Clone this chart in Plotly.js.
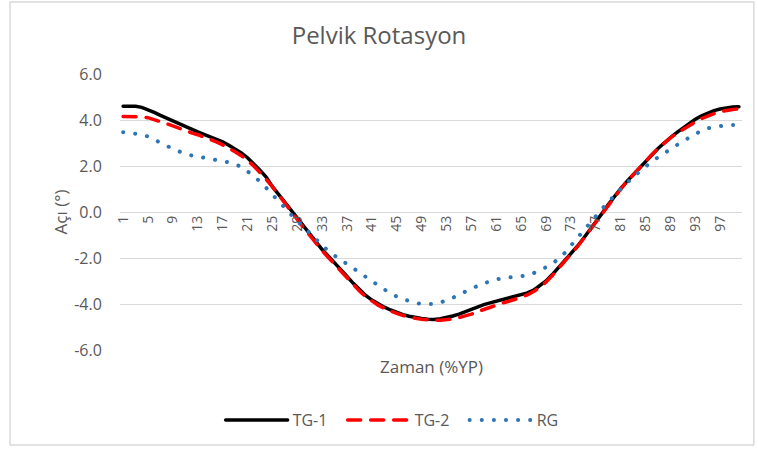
<!DOCTYPE html>
<html>
<head>
<meta charset="utf-8">
<script src="https://cdn.plot.ly/plotly-3.0.1.min.js"></script>
<style>
html,body{margin:0;padding:0;background:#fff;}
#chart{width:758px;height:450px;}
.scatterlayer .js-line, .legendlines path { stroke-linecap: round; }
</style>
</head>
<body>
<div id="chart"></div>
<script>
const categories = Array.from({length: 100}, (_, i) => i + 1);
const tickLabels = categories.filter(c => (c - 1) % 4 === 0);

const tg1 = [4.60,4.61,4.60,4.55,4.45,4.33,4.20,4.08,3.97,3.82,
3.69,3.58,3.48,3.38,3.28,3.18,3.05,2.90,2.75,2.57,
2.36,2.10,1.82,1.52,1.10,0.77,0.43,0.08,-0.27,-0.62,
-0.98,-1.32,-1.63,-1.92,-2.20,-2.50,-2.80,-3.10,-3.38,-3.63,
-3.83,-4.00,-4.14,-4.26,-4.37,-4.46,-4.53,-4.59,-4.63,-4.66,
-4.67,-4.64,-4.59,-4.52,-4.44,-4.33,-4.22,-4.12,-4.03,-3.95,
-3.88,-3.81,-3.74,-3.67,-3.60,-3.52,-3.40,-3.22,-3.00,-2.72,
-2.42,-2.15,-1.85,-1.50,-1.15,-0.80,-0.43,-0.06,0.32,0.68,
1.02,1.33,1.63,1.92,2.20,2.48,2.76,3.02,3.24,3.45,
3.65,3.85,4.03,4.18,4.31,4.41,4.48,4.53,4.57,4.58];

const tg2 = [4.15,4.15,4.15,4.14,4.10,4.02,3.93,3.84,3.74,3.63,
3.53,3.44,3.36,3.27,3.17,3.05,2.92,2.78,2.62,2.45,
2.25,2.00,1.72,1.42,1.10,0.76,0.40,0.04,-0.32,-0.68,
-1.03,-1.37,-1.68,-1.98,-2.28,-2.58,-2.88,-3.17,-3.44,-3.68,
-3.88,-4.05,-4.19,-4.31,-4.41,-4.50,-4.57,-4.62,-4.66,-4.69,
-4.71,-4.71,-4.69,-4.65,-4.59,-4.52,-4.44,-4.33,-4.23,-4.13,
-4.04,-3.96,-3.88,-3.80,-3.71,-3.60,-3.46,-3.27,-3.04,-2.76,
-2.46,-2.17,-1.86,-1.52,-1.17,-0.80,-0.44,-0.07,0.30,0.66,
1.00,1.32,1.62,1.92,2.21,2.49,2.76,3.01,3.22,3.42,
3.60,3.77,3.92,4.06,4.18,4.28,4.36,4.42,4.46,4.48];

const rg = [3.47,3.45,3.42,3.37,3.28,3.16,3.02,2.88,2.75,2.62,
2.52,2.46,2.41,2.37,2.33,2.29,2.23,2.16,2.08,1.96,
1.77,1.55,1.33,1.05,0.76,0.46,0.14,-0.13,-0.40,-0.64,
-0.93,-1.20,-1.45,-1.70,-1.91,-2.09,-2.26,-2.45,-2.64,-2.86,
-3.02,-3.19,-3.37,-3.53,-3.68,-3.79,-3.88,-3.95,-4.00,-4.01,
-4.00,-3.94,-3.85,-3.73,-3.59,-3.45,-3.32,-3.21,-3.10,-3.00,
-2.93,-2.88,-2.85,-2.84,-2.81,-2.76,-2.66,-2.54,-2.40,-2.24,
-2.04,-1.78,-1.45,-1.15,-0.84,-0.52,-0.19,0.14,0.44,0.73,
0.98,1.26,1.52,1.72,1.97,2.20,2.38,2.56,2.72,2.93,
3.08,3.23,3.40,3.54,3.64,3.70,3.76,3.78,3.78,3.78];

const seriesNames = ['TG-1','TG-2','RG'];
const yTicks = [-6,-4,-2,0,2,4,6];

const FONT = '"Open Sans", "Liberation Sans", sans-serif';
const GRAY = '#595959';

const traces = [
  {x: categories, y: tg1, name: seriesNames[0], mode: 'lines', type: 'scatter',
   line: {color: '#000000', width: 3.5}},
  {x: categories, y: tg2, name: seriesNames[1], mode: 'lines', type: 'scatter',
   line: {color: '#ff0000', width: 3.5, dash: '13px,10px'}},
  {x: categories, y: rg, name: seriesNames[2], mode: 'lines', type: 'scatter',
   line: {color: '#2e75b6', width: 4, dash: '0.1px,12px'}}
];

const layout = {
  width: 758, height: 450,
  paper_bgcolor: '#ffffff', plot_bgcolor: '#ffffff',
  margin: {l: 120, r: 16, t: 74, b: 100},
  font: {family: FONT, color: GRAY, size: 15},
  title: {text: 'Pelvik Rotasyon', font: {family: FONT, size: 24, color: GRAY},
          x: 0.5, xanchor: 'center', y: 0.92, yanchor: 'middle'},
  showlegend: true,
  legend: {orientation: 'h', x: 0.456, xanchor: 'center', y: -0.254, yanchor: 'middle',
           font: {family: FONT, size: 16, color: GRAY}, itemwidth: 62, entrywidth: 45,
           traceorder: 'normal'},
  xaxis: {
    range: [0.5, 100.5], tickmode: 'array', tickvals: tickLabels, ticktext: tickLabels.map(String),
    tickangle: -90, anchor: 'free', position: 0.5, showgrid: false, zeroline: false,
    showline: false, ticks: '', tickfont: {family: FONT, size: 14, color: GRAY}
  },
  yaxis: {
    range: [-6, 6], tickmode: 'array', tickvals: yTicks, ticktext: yTicks.map(v => v.toFixed(1)),
    showgrid: true, gridcolor: '#d9d9d9', gridwidth: 1, zeroline: false, showline: false,
    ticks: 'outside', ticklen: 14, tickcolor: 'rgba(0,0,0,0)',
    tickfont: {family: FONT, size: 16, color: GRAY},
    title: {text: 'Açı (°)', font: {family: FONT, size: 17, color: GRAY}, standoff: 2}
  },
  annotations: [
    {text: 'Zaman (%YP)', xref: 'paper', yref: 'paper', x: 0.5, y: -0.06, xanchor: 'center', yanchor: 'middle',
     showarrow: false, font: {family: FONT, size: 17, color: GRAY}}
  ],
  shapes: [
    {type: 'rect', xref: 'paper', yref: 'paper', x0: -0.1768, x1: 1.019, y0: -0.344, y1: 1.261,
     line: {color: '#d9d9d9', width: 1.5}, fillcolor: 'rgba(0,0,0,0)', layer: 'below'}
  ]
};

Plotly.newPlot('chart', traces, layout, {displayModeBar: false, staticPlot: true});
</script>
</body>
</html>
